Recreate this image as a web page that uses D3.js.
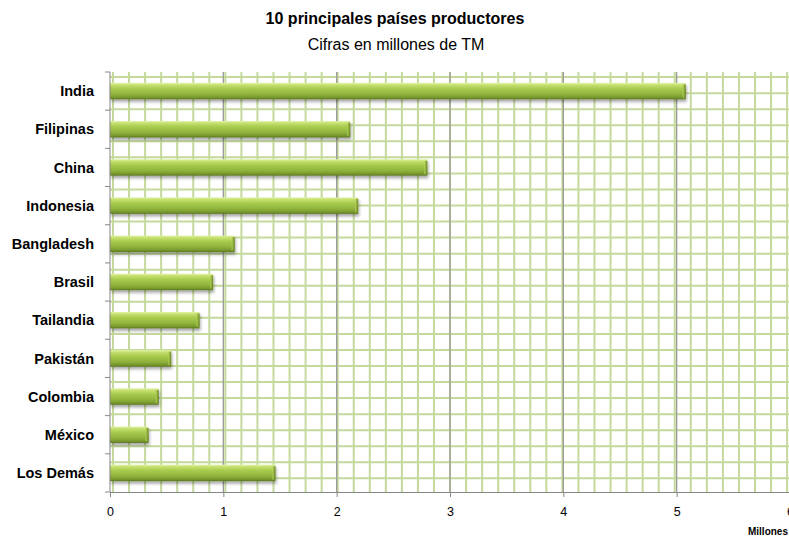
<!DOCTYPE html>
<html><head><meta charset="utf-8">
<script src="https://cdn.jsdelivr.net/npm/d3@7"></script>
<style>body{margin:0;background:#fff}svg{display:block}</style>
</head><body>
<svg id="c" width="789" height="538"></svg>
<script>
const categories = ["India","Filipinas","China","Indonesia","Bangladesh","Brasil","Tailandia","Pakistán","Colombia","México","Los Demás"];
const values = [5.08, 2.12, 2.80, 2.19, 1.10, 0.91, 0.79, 0.54, 0.43, 0.34, 1.46];
const xTicks = [0,1,2,3,4,5,6];
const titleText = "10 principales países productores";
const subtitleText = "Cifras en millones de TM";
const unitText = "Millones";

const svg = d3.select("#c");
const font = "'Liberation Sans', Arial, sans-serif";
const L = 110, R = 790, T = 72, B = 492;

const x = d3.scaleLinear().domain([0, 6]).range([L, R]);
const y = d3.scaleBand().domain(categories).range([T, B]).paddingInner(0.57).paddingOuter(0.285);

const defs = svg.append("defs");
const g1 = defs.append("linearGradient").attr("id","barg").attr("x1",0).attr("y1",0).attr("x2",0).attr("y2",1);
[[0,"#e4f3a8"],[0.12,"#c6e172"],[0.35,"#a8cb4e"],[0.7,"#8fb23c"],[0.9,"#76962c"],[1,"#5a7420"]].forEach(([o,c])=>g1.append("stop").attr("offset",o).attr("stop-color",c));
const g2 = defs.append("linearGradient").attr("id","capg").attr("x1",0).attr("y1",0).attr("x2",1).attr("y2",0);
[[0,"#b8d660"],[0.5,"#8aa838"],[1,"#55701c"]].forEach(([o,c])=>g2.append("stop").attr("offset",o).attr("stop-color",c));
const f = defs.append("filter").attr("id","sh").attr("x","-5%").attr("y","-30%").attr("width","115%").attr("height","180%");
f.append("feDropShadow").attr("dx",1).attr("dy",2.5).attr("stdDeviation",1.6).attr("flood-color","#000").attr("flood-opacity",0.35);
defs.append("clipPath").attr("id","pc").append("rect").attr("x",L).attr("y",T).attr("width",R-L).attr("height",B-T);

// background pattern grid
const pg = svg.append("g").attr("clip-path","url(#pc)");
const step = 16.05;
pg.selectAll("line.v").data(d3.range(0, 43)).join("line")
  .attr("x1", k => 113 + step*k).attr("x2", k => 113 + step*k)
  .attr("y1", T).attr("y2", B).attr("stroke","#c4d99b").attr("stroke-width",2);
pg.selectAll("line.h").data(d3.range(0, 26)).join("line")
  .attr("y1", k => 77.1 + step*k).attr("y2", k => 77.1 + step*k)
  .attr("x1", L).attr("x2", R).attr("stroke","#c4d99b").attr("stroke-width",2);

// major gridlines
svg.append("g").selectAll("line").data(xTicks.filter(d=>d>0)).join("line")
  .attr("x1", d=>x(d)).attr("x2", d=>x(d)).attr("y1", T).attr("y2", B)
  .attr("stroke","#9a9a9a").attr("stroke-width",1.3);

// bars
const bg = svg.append("g");
bg.selectAll("rect.bar").data(values).join("rect").attr("class","bar")
  .attr("x", x(0)).attr("y", (d,i)=>y(categories[i]))
  .attr("width", d=>x(d)-x(0)).attr("height", y.bandwidth())
  .attr("fill","url(#barg)").attr("filter","url(#sh)");
bg.selectAll("rect.cap").data(values).join("rect").attr("class","cap")
  .attr("x", d=>x(d)-3).attr("y", (d,i)=>y(categories[i])+1.5)
  .attr("width", 3).attr("height", y.bandwidth()-3)
  .attr("fill","url(#capg)").attr("opacity",0.8);

// axes
const ax = svg.append("g").attr("transform",`translate(0,${B})`)
  .call(d3.axisBottom(x).tickValues(xTicks).tickFormat(d3.format("d")).tickSize(5).tickPadding(10));
ax.select(".domain").attr("stroke","#868686");
ax.selectAll(".tick line").attr("stroke","#868686");
ax.selectAll("text").attr("font-family",font).attr("font-size",12.5).attr("fill","#000");

const ay = svg.append("g").attr("transform",`translate(${L},0)`);
ay.append("line").attr("x1",0).attr("x2",0).attr("y1",T).attr("y2",B).attr("stroke","#868686");
const bounds = d3.range(categories.length+1).map(i => i===categories.length ? B : y(categories[i]) - y.step()*y.paddingInner()/2);
ay.selectAll("line.t").data(bounds).join("line")
  .attr("x1",-5).attr("x2",0).attr("y1",d=>d).attr("y2",d=>d).attr("stroke","#868686");
ay.selectAll("text").data(categories).join("text")
  .attr("x",-16).attr("y", d=>y(d)+y.bandwidth()/2).attr("dy","0.36em")
  .attr("text-anchor","end").attr("font-family",font).attr("font-weight","bold")
  .attr("font-size",14.5).attr("fill","#000").text(d=>d);

// titles
svg.append("text").attr("x",395).attr("y",24).attr("text-anchor","middle")
  .attr("font-family",font).attr("font-weight","bold").attr("font-size",16).text(titleText);
svg.append("text").attr("x",396).attr("y",50).attr("text-anchor","middle")
  .attr("font-family",font).attr("font-size",16).text(subtitleText);
svg.append("text").attr("x",788).attr("y",535).attr("text-anchor","end")
  .attr("font-family",font).attr("font-weight","bold").attr("font-size",10).text(unitText);
</script>
</body></html>
